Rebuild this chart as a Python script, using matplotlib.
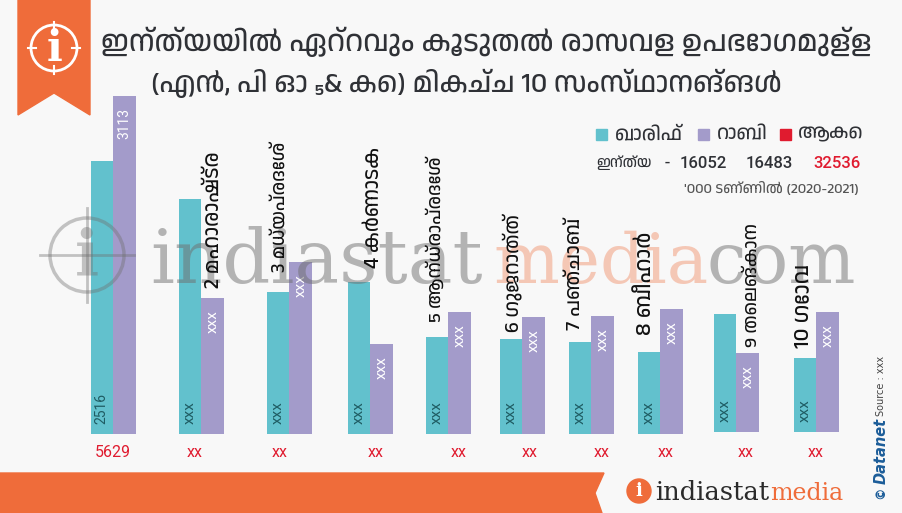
import matplotlib
matplotlib.use("Agg")
import matplotlib.pyplot as plt
from matplotlib.patches import Polygon, Circle, Rectangle
from matplotlib import font_manager as fm

# ---- data ----
ranks_states = ["2 മഹാരാഷ്ട്ര", "3 മധ്യപ്രദേശ്", "4 കർണാടക", "5 ആന്ധ്രാപ്രദേശ്", "6 ഗുജറാത്ത്",
                "7 പഞ്ചാബ്", "8 ബീഹാർ", "9 തെലങ്കാന", "10 ഗോവ"]
kharif = [2516, 2166, 1309, 1401, 894, 876, 848, 756, 1088, 677]
rabi = [3113, 1253, 1585, 830, 1124, 1078, 1088, 1152, 728, 1101]
kharif_labels = ["2516", "xxx", "xxx", "xxx", "xxx", "xxx", "xxx", "xxx", "xxx", "xxx"]
rabi_labels = ["3113", "xxx", "xxx", "xxx", "xxx", "xxx", "xxx", "xxx", "xxx", "xxx"]
total_labels = ["5629", "xx", "xx", "xx", "xx", "xx", "xx", "xx", "xx", "xx"]
india = ["16052", "16483", "32536"]
title_lines = ["ഇന്ത്യയിൽ ഏറ്റവും കൂടുതൽ രാസവള ഉപഭോഗമുള്ള", "(എൻ, പി ഓ ₅& കെ) മികച്ച 10 സംസ്ഥാനങ്ങൾ"]
legend_names = ["ഖാരിഫ്", "റാബി", "ആകെ"]

# ---- layout ----
group_x = [113, 201, 289, 370, 448, 522, 591, 660, 736, 816]
base = [0, 0, 0, 0, 0, 0, 0, 0, 18, 23]
total_x = [113, 195, 280, 376, 459, 530, 602, 666, 746, 816]
label_pos = [(213, 288), (280, 272), (373, 268), (435, 322), (512, 332), (575, 330), (645, 335), (752, 347), (803, 348)]
label_size = [15, 13.5, 15, 13.3, 14.2, 14.5, 16, 13.3, 16]
TEAL, PURPLE, RED, ORANGE = "#62c1cd", "#a39bca", "#e01b2f", "#ef6c3a"
DARK = "#2f3136"

ml = [f.name for f in fm.fontManager.ttflist if "malayalam" in f.name.lower() or "manjari" in f.name.lower()]
plt.rcParams["font.family"] = ml[:1] + ["Noto Sans", "DejaVu Sans"]

fig = plt.figure(figsize=(9.02, 5.13), dpi=100, facecolor="#f8f8f8")
ax = fig.add_axes([0, 0, 1, 1], zorder=1)
ax.set_xlim(0, 902)
ax.set_ylim(-728, 4000)
ax.axis("off")
deco = fig.add_axes([0, 0, 1, 1], zorder=2)
deco.set_xlim(0, 902)
deco.set_ylim(513, 0)
deco.axis("off")

W = 22.5
for i, x in enumerate(group_x):
    ax.bar(x - W / 2, kharif[i], W, bottom=base[i], color=TEAL, zorder=2)
    ax.bar(x + W / 2, rabi[i], W, bottom=base[i], color=PURPLE, zorder=2)
    ax.text(x - W / 2, base[i] + 90, kharif_labels[i], rotation=90, ha="center", va="bottom",
            fontsize=10 if i == 0 else 11, color="#1f5c63", family="Roboto", zorder=5)
    ax.text(x + W / 2, base[i] + rabi[i] - 110, rabi_labels[i], rotation=90, ha="center", va="top",
            fontsize=10 if i == 0 else 11, color="white", family="Roboto", zorder=5)
    ax.text(total_x[i], -175, total_labels[i], ha="center", va="center", fontsize=11.5,
            color=RED, family="Roboto", zorder=5)

# watermark
G = "#6f6f6f"
deco.add_patch(Circle((87, 255), 37, fill=False, ec=G, lw=2.5, alpha=.4))
deco.plot([40, 134], [255, 255], color=G, lw=2, alpha=.4)
deco.plot([87, 87], [208, 302], color=G, lw=2, alpha=.4)
deco.text(87, 257, "i", fontsize=46, family="DejaVu Serif", weight="bold", color=G, alpha=.4, ha="center", va="center")
deco.text(150, 283, "indiastat", fontsize=54, family="DejaVu Serif", color=G, alpha=.5, va="baseline")
deco.text(493, 283, "media", fontsize=50, family="DejaVu Serif", color=ORANGE, alpha=.35, va="baseline")
deco.text(707, 283, "com", fontsize=51, family="DejaVu Serif", color=G, alpha=.5, va="baseline")

# bookmark
deco.add_patch(Polygon([(18, 0), (90, 0), (90, 115), (54, 93), (18, 115)], color=ORANGE))
deco.add_patch(Circle((54, 48), 23, fill=False, ec="white", lw=2))
for a, b, c, d in [(54, 22, 54, 30), (54, 66, 54, 74), (28, 48, 36, 48), (72, 48, 80, 48)]:
    deco.plot([a, c], [b, d], color="white", lw=1.5)
deco.text(54, 49, "i", color="white", fontsize=30, weight="bold", family="DejaVu Serif", ha="center", va="center")

# title
deco.text(486, 42, title_lines[0], fontsize=21, color=DARK, ha="center", va="center")
deco.text(466, 83, title_lines[1], fontsize=20.3, color=DARK, ha="center", va="center")

# legend
for x0, c, name, tx in zip([596, 698, 780], [TEAL, PURPLE, RED], legend_names, [615, 717, 798]):
    deco.add_patch(Rectangle((x0, 129), 11, 11, color=c))
    deco.text(tx, 134, name, fontsize=14, color=DARK, va="center")
deco.text(596, 163, "ഇന്ത്യ", fontsize=10.5, color=DARK, va="center")
deco.text(667, 163, "-", fontsize=13, color=DARK, va="center", ha="center", family="Roboto")
for v, xr, c in zip(india, [727, 793, 861], [DARK, DARK, RED]):
    deco.text(xr, 163, v, fontsize=12, color=c, va="center", ha="right", family="Roboto", weight="medium")
deco.text(859, 188, "'000 ടണ്ണിൽ (2020-2021)", fontsize=10.5, color="#555555", va="center", ha="right")

# state labels
for t, (x, y), s in zip(ranks_states, label_pos, label_size):
    deco.text(x, y, t, rotation=90, fontsize=s, color="#111111", ha="center", va="bottom")

# bottom band and logo
deco.add_patch(Polygon([(0, 473), (604, 473), (595, 493), (602, 513), (0, 513)], color=ORANGE))
deco.add_patch(Circle((639, 491), 12, color=ORANGE))
deco.text(639, 491, "i", color="white", fontsize=13, weight="bold", family="DejaVu Serif", ha="center", va="center")
deco.text(655, 500, "indiastat", fontsize=18.5, family="DejaVu Serif", color="#2b2b2b", va="baseline")
deco.text(770, 500, "media", fontsize=17, family="DejaVu Serif", color=ORANGE, va="baseline")

# credits
deco.text(881, 499, "©", rotation=90, fontsize=9, color="#1c5d99", ha="center", va="bottom", weight="bold", family="DejaVu Sans")
deco.text(881, 484, "Datanet", rotation=90, fontsize=10.5, color="#1c5d99", ha="center", va="bottom", weight="heavy", style="italic", family="DejaVu Sans")
deco.text(881, 416, "Source : xxx", rotation=90, fontsize=7, color="#444444", ha="center", va="bottom", family="DejaVu Sans")

fig.savefig("out.png", dpi=100, facecolor=fig.get_facecolor())
